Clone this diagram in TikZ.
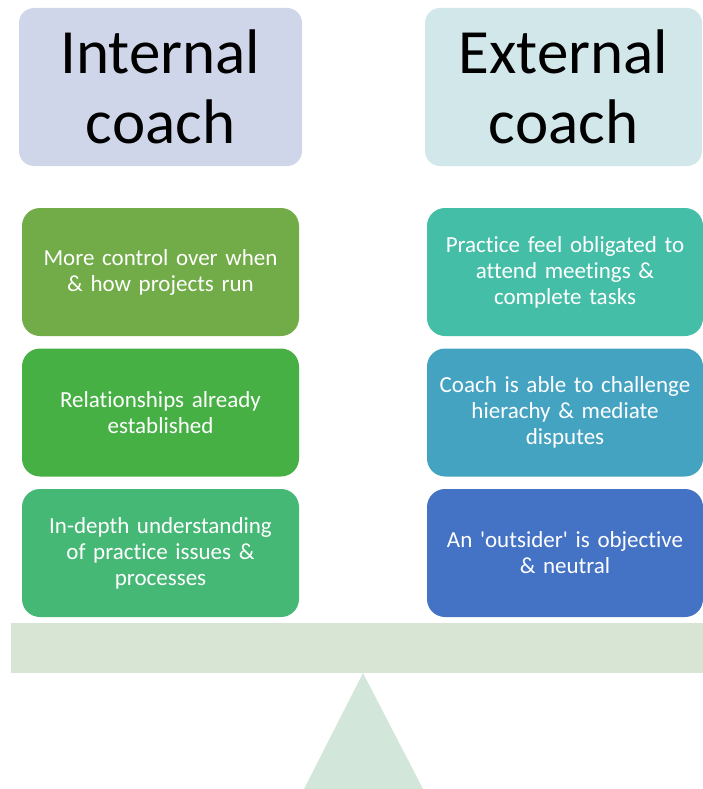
\documentclass[tikz,border=0pt]{standalone}
\usepackage{fontspec}
\setmainfont{Carlito}[Ligatures={TeXOff,CommonOff}]
\definecolor{hdrInt}{HTML}{CFD6EA}
\definecolor{hdrExt}{HTML}{D2E7EA}
\definecolor{gA}{HTML}{71AC48}
\definecolor{gB}{HTML}{47B045}
\definecolor{gC}{HTML}{46B876}
\definecolor{tA}{HTML}{45BEA8}
\definecolor{tB}{HTML}{45A3C2}
\definecolor{tC}{HTML}{4472C4}
\definecolor{beamc}{HTML}{D9E5D4}
\definecolor{triC}{HTML}{D2E6DA}
\tikzset{
  hdr/.style={rounded corners=15pt, inner sep=0pt, align=center, text width=283pt,
    minimum width=283pt, minimum height=158pt,
    font=\fontsize{63}{70}\selectfont, text=black},
  item/.style={rounded corners=18pt, inner sep=0pt, align=center, text width=277pt,
    minimum width=277pt, minimum height=128pt,
    font=\fontsize{23}{26}\selectfont, text=white}
}
\begin{document}
\begin{tikzpicture}[x=1pt,y=-1pt]
\useasboundingbox (0,0) rectangle (703,789);
\node[hdr, fill=hdrInt] (int) at (160.5,87) {Internal\\coach};
\node[hdr, fill=hdrExt, text width=277pt, minimum width=277pt] (ext) at (563.5,87) {External\\coach};
\node[item, fill=gA] (l1) at (160.5,272) {More control over when\\ \& how projects run};
\node[item, fill=gB] (l2) at (160.5,412.5) {Relationships already\\established};
\node[item, fill=gC] (l3) at (160.5,553) {In-depth understanding\\of practice issues \&\\processes};
\node[item, fill=tA, text width=276pt, minimum width=276pt] (r1) at (565,272) {Practice feel obligated to\\attend meetings \&\\complete tasks};
\node[item, fill=tB, text width=276pt, minimum width=276pt] (r2) at (565,412.5) {Coach is able to challenge\\hierachy \& mediate\\disputes};
\node[item, fill=tC, text width=276pt, minimum width=276pt] (r3) at (565,553) {An 'outsider' is objective\\ \& neutral};
\node[fill=beamc, inner sep=0pt, minimum width=692pt, minimum height=50pt] (beam) at (357,648) {};
\coordinate (apex) at (363,673);
\coordinate (bl) at (304,789);
\coordinate (br) at (423,789);
\fill[triC] (apex) -- (bl) -- (br) -- cycle;
\end{tikzpicture}
\end{document}
